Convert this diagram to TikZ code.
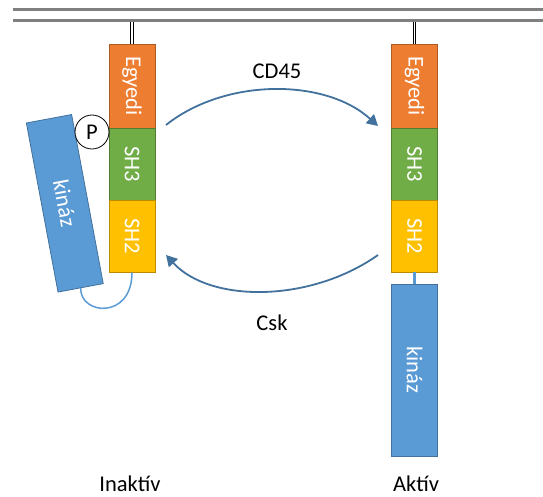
\documentclass[tikz,border=0pt]{standalone}
\usepackage{fontspec}
\setmainfont{Carlito}
\usepackage{tikz}
\usetikzlibrary{arrows.meta}
\definecolor{egyfill}{HTML}{ED7D31}
\definecolor{egyline}{HTML}{AE5A21}
\definecolor{shhfill}{HTML}{70AD47}
\definecolor{shhline}{HTML}{507E32}
\definecolor{shkfill}{HTML}{FFC000}
\definecolor{shkline}{HTML}{BC8C00}
\definecolor{kinfill}{HTML}{5B9BD5}
\definecolor{kinline}{HTML}{41719C}
\definecolor{memgray}{HTML}{7F7F7F}

\begin{document}
\begin{tikzpicture}[x=1pt,y=-1pt,
		font=\fontsize{22.5}{27}\selectfont,
		dom/.style={rectangle,draw,line width=0.8pt,text=white,rotate=-90,minimum height=46pt,inner sep=0pt},
		egy/.style={dom,fill=egyfill,draw=egyline,minimum width=84pt},
		shh/.style={dom,fill=shhfill,draw=shhline,minimum width=72pt},
		shk/.style={dom,fill=shkfill,draw=shkline,minimum width=72pt},
		kin/.style={dom,fill=kinfill,draw=kinline,minimum width=172pt},
		membrane/.style={draw=memgray,line width=3.8pt},
		stem/.style={draw=black,line width=1.1pt,double=white,double distance=1.5pt},
		react/.style={draw=kinline,line width=1.8pt,-{Triangle[length=11pt,width=12pt]}},
		state/.style={inner sep=1pt},
		]
		\useasboundingbox (0,0) rectangle (543,497);
		% membran
		\draw[membrane] (12.5,9.5) -- (543,9.5);
		\draw[membrane] (12.5,20.5) -- (543,20.5);
		\coordinate (memL) at (132,22.5);
		\coordinate (memR) at (414.5,22.5);
		% inaktiv
		\node[egy] (egyL) at (132,86) {Egyedi};
		\node[shh] (shhL) at (132,164) {SH3};
		\node[shk] (shkL) at (132,236) {SH2};
		\node[kin,rotate=10.6] (kinL) at (64.8,203.3) {kináz};
		\node[circle,draw,fill=white,line width=0.8pt,minimum size=34pt,inner sep=0pt] (pL) at (92,132) {P};
		\draw[stem] (memL) -- (egyL.west);
		\draw[kinfill,line width=1.5pt] (shkL.east) .. controls (132,320) and (80,315) .. (kinL.east);
		% aktiv
		\node[egy] (egyR) at (414.5,86) {Egyedi};
		\node[shh] (shhR) at (414.5,164) {SH3};
		\node[shk] (shkR) at (414.5,236) {SH2};
		\node[kin] (kinR) at (414.5,370) {kináz};
		\draw[stem] (memR) -- (egyR.west);
		\draw[kinfill,line width=2.5pt] (shkR.east) -- (kinR.west);
		% nyilak
		\coordinate (cdS) at (166,125);
		\coordinate (cdE) at (378,126);
		\coordinate (cskS) at (378,255);
		\coordinate (cskE) at (166,255);
		\draw[react] (cdS) .. controls (225,78) and (325,78) .. (cdE);
		\draw[react] (cskS) .. controls (310,303) and (210,303) .. (cskE);
		\node (cd) at (277,71) {CD45};
		\node (csk) at (272,323) {Csk};
		\node[state] (inakt) at (130,484) {Inaktív};
		\node[state] (akt) at (416,484) {Aktív};
	\end{tikzpicture}
\end{document}
